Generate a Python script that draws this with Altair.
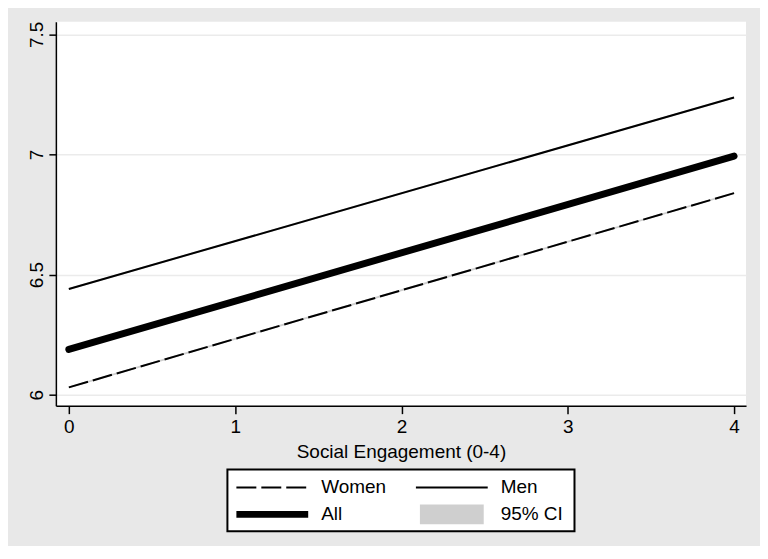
import altair as alt
import pandas as pd

# ---- data ----
x_vals = [0, 4]
women = [6.03, 6.839]
men = [6.44, 7.237]
all_vals = [6.188, 6.993]
# 95% CI half-widths (barely visible in the reference)
ci_women = [0.004, 0.004]
ci_men = [0.004, 0.004]
ci_all = [0.004, 0.004]

x_ticks = [0, 1, 2, 3, 4]
y_ticks = [6, 6.5, 7, 7.5]
legend_labels = ["Women", "Men", "All", "95% CI"]

FONT = "Liberation Sans, Arial, Helvetica, sans-serif"
BG = "#e8e8e8"

rows = []
for name, vals, ci in [("Women", women, ci_women), ("Men", men, ci_men), ("All", all_vals, ci_all)]:
    for xv, yv, c in zip(x_vals, vals, ci):
        rows.append({"x": xv, "y": yv, "lo": yv - c, "hi": yv + c, "series": name})
df = pd.DataFrame(rows)

xscale = alt.Scale(domain=[-0.078, 4.072], nice=False, zero=False)
yscale = alt.Scale(domain=[5.954, 7.553], nice=False, zero=False)

xaxis = alt.Axis(values=x_ticks, format="d", grid=False, title="Social Engagement (0-4)",
                 tickSize=8, labelPadding=4, titlePadding=6)
yaxis = alt.Axis(values=y_ticks, format=".1~f", grid=True, title=None, labelAngle=-90,
                 labelAlign="center", labelBaseline="alphabetic", tickSize=7, labelPadding=6,
                 gridColor="#ebebeb", gridWidth=1.5)

base = alt.Chart(df)

band = base.mark_area(color="#cfcfcf", opacity=1).encode(
    x=alt.X("x:Q", scale=xscale, axis=xaxis),
    y=alt.Y("lo:Q", scale=yscale, axis=yaxis),
    y2="hi:Q",
    detail="series:N",
)

women_line = base.transform_filter(alt.datum.series == "Women").mark_line(
    color="black", strokeWidth=2, strokeDash=[20, 5]
).encode(x=alt.X("x:Q", scale=xscale), y=alt.Y("y:Q", scale=yscale))

men_line = base.transform_filter(alt.datum.series == "Men").mark_line(
    color="black", strokeWidth=2
).encode(x=alt.X("x:Q", scale=xscale), y=alt.Y("y:Q", scale=yscale))

all_line = base.transform_filter(alt.datum.series == "All").mark_line(
    color="black", strokeWidth=7, strokeCap="round"
).encode(x=alt.X("x:Q", scale=xscale), y=alt.Y("y:Q", scale=yscale))

main = alt.layer(band, women_line, men_line, all_line).properties(
    width=692, height=385, view=alt.ViewBackground(fill="white", strokeWidth=0)
)

# ---- manual legend (layout in pixel units of a 692x62 panel) ----
col_x = [181, 361]
row_y = [18, 45]
leg_rows = []
for i, lab in enumerate(legend_labels):
    c, r = i % 2, i // 2
    leg_rows.append({"label": lab, "sx0": col_x[c], "sx1": col_x[c] + 72,
                     "tx": col_x[c] + 85, "ty": row_y[r], "kind": lab})
ldf = pd.DataFrame(leg_rows)

lx = alt.Scale(domain=[0, 692], nice=False, zero=False)
ly = alt.Scale(domain=[0, 62], nice=False, zero=False, reverse=True)

lbase = alt.Chart(ldf)
box = lbase.transform_filter(alt.datum.kind == "Women").mark_rect(
    fill="white", stroke="black", strokeWidth=2
).encode(
    x=alt.X("bx0:Q", scale=lx, axis=None), x2="bx1:Q",
    y=alt.Y("by0:Q", scale=ly, axis=None), y2="by1:Q",
).transform_calculate(bx0="172", bx1="520", by0="0", by1="62")

dash_sym = lbase.transform_filter(alt.datum.kind == "Women").mark_rule(
    color="black", strokeWidth=2, strokeDash=[20, 5]
).encode(x=alt.X("sx0:Q", scale=lx, axis=None), x2="sx1:Q", y=alt.Y("ty:Q", scale=ly, axis=None))

solid_sym = lbase.transform_filter(alt.datum.kind == "Men").mark_rule(
    color="black", strokeWidth=2
).encode(x=alt.X("sx0:Q", scale=lx, axis=None), x2="sx1:Q", y=alt.Y("ty:Q", scale=ly, axis=None))

thick_sym = lbase.transform_filter(alt.datum.kind == "All").mark_rule(
    color="black", strokeWidth=7
).encode(x=alt.X("sx0:Q", scale=lx, axis=None), x2="sx1:Q", y=alt.Y("ty:Q", scale=ly, axis=None))

ci_sym = lbase.transform_filter(alt.datum.kind == "95% CI").transform_calculate(
    rx0="datum.sx0 + 4", rx1="datum.sx1 - 4", ry0="datum.ty - 10", ry1="datum.ty + 10"
).mark_rect(fill="#cfcfcf").encode(
    x=alt.X("rx0:Q", scale=lx, axis=None), x2="rx1:Q",
    y=alt.Y("ry0:Q", scale=ly, axis=None), y2="ry1:Q",
)

texts = lbase.mark_text(align="left", baseline="middle", fontSize=19, font=FONT, color="black").encode(
    x=alt.X("tx:Q", scale=lx, axis=None), y=alt.Y("ty:Q", scale=ly, axis=None), text="label:N"
)

legend = alt.layer(box, dash_sym, solid_sym, thick_sym, ci_sym, texts).properties(
    width=692, height=62, view=alt.ViewBackground(fill="transparent", strokeWidth=0)
)

chart = alt.vconcat(main, legend, spacing=64, bounds="flush").properties(
    background=BG,
    padding={"left": 20, "top": 12, "right": 12, "bottom": 13},
).configure(font=FONT).configure_view(strokeWidth=0).configure_axis(
    labelFont=FONT, titleFont=FONT, labelFontSize=19, titleFontSize=19,
    labelColor="black", titleColor="black", titleFontWeight="normal",
    domainColor="black", domainWidth=1.5, tickColor="black", tickWidth=1.5,
)

chart.save("out.html", embed_options={"renderer": "svg", "actions": False})
